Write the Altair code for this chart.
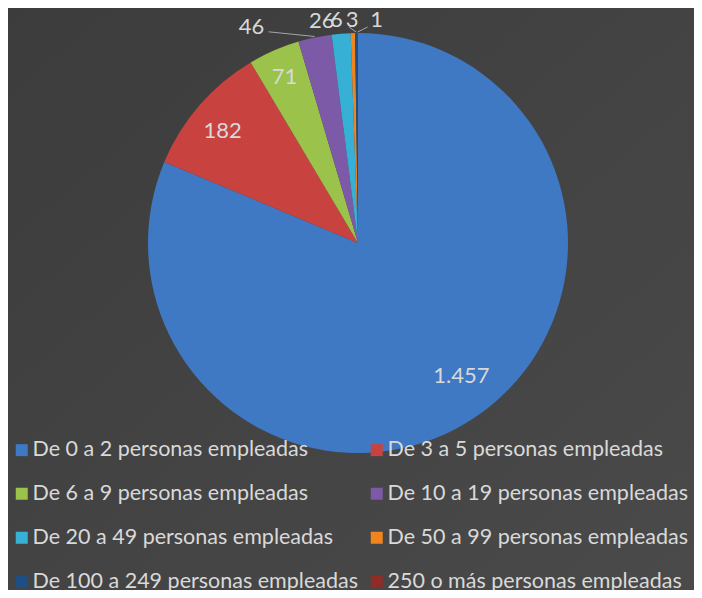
import altair as alt
import pandas as pd

categories = [
    "De 0 a 2 personas empleadas",
    "De 3 a 5 personas empleadas",
    "De 6 a 9 personas empleadas",
    "De 10 a 19 personas empleadas",
    "De 20 a 49 personas empleadas",
    "De 50 a 99 personas empleadas",
    "De 100 a 249 personas empleadas",
    "250 o más personas empleadas",
]
values = [1457, 182, 71, 46, 26, 6, 3, 1]
labels = ["1.457", "182", "71", "46", "26", "6", "3", "1"]
colors = ["#3F78C3", "#C8433F", "#9BC24A", "#7D5AA8", "#36B0D4", "#F0841F", "#1F4E85", "#8E2C28"]

df = pd.DataFrame({"cat": categories, "val": values, "lab": labels, "order": list(range(len(values)))})

W, H = 686, 582
CX, CY, R = 350, 235, 210
FONT = "Lato"
TXT = "#D9D9D9"

bg = alt.Chart(pd.DataFrame({"a": [0]})).mark_rect(
    color=alt.LinearGradient(
        gradient="linear", x1=0, y1=0, x2=1, y2=1,
        stops=[alt.GradientStop(color="#3C3C3C", offset=0),
               alt.GradientStop(color="#4A4A4A", offset=1)],
    )
).encode(x=alt.value(0), x2=alt.value(W), y=alt.value(0), y2=alt.value(H))

pie = alt.Chart(df).mark_arc(radius=R, x=CX, y=CY, stroke=None).encode(
    theta=alt.Theta("val:Q", stack=True),
    order=alt.Order("order:Q"),
    color=alt.Color(
        "cat:N",
        sort=categories,
        scale=alt.Scale(domain=categories, range=colors),
        legend=alt.Legend(
            title=None, orient="none", legendX=3, legendY=431, columns=2,
            direction="horizontal", padding=0,
            symbolType="square", symbolSize=144, symbolStrokeWidth=0,
            labelFont=FONT, labelFontSize=21.5, labelColor=TXT,
            rowPadding=21, columnPadding=8, labelOffset=0, labelLimit=400,
        ),
    ),
)

geo = alt.Chart(df).transform_joinaggregate(
    total="sum(val)"
).transform_window(
    cum="sum(val)", sort=[alt.SortField("order")], frame=[None, 0]
).transform_calculate(
    mid="2*PI*(datum.cum - datum.val/2)/datum.total"
).transform_calculate(
    ex=f"{CX} + {R + 1}*sin(datum.mid)",
    ey=f"{CY} - {R + 1}*cos(datum.mid)",
)

def label(cat, r, dx=0, dy=0):
    return geo.transform_filter(alt.datum.cat == cat).transform_calculate(
        lx=f"{CX} + {r}*sin(datum.mid)",
        ly=f"{CY} - {r}*cos(datum.mid)",
    ).mark_text(
        dx=dx, dy=dy, font=FONT, fontSize=22, color=TXT
    ).encode(
        x=alt.X("lx:Q", scale=None), y=alt.Y("ly:Q", scale=None), text="lab:N"
    )

def leader(cat, r, sx, sy):
    return geo.transform_filter(alt.datum.cat == cat).transform_calculate(
        sx=f"{CX} + {r}*sin(datum.mid) + ({sx})",
        sy=f"{CY} - {r}*cos(datum.mid) + ({sy})",
    ).mark_rule(color="#A6A6A6", strokeWidth=1).encode(
        x=alt.X("sx:Q", scale=None), y=alt.Y("sy:Q", scale=None),
        x2="ex:Q", y2="ey:Q",
    )

RO = 226
chart = alt.layer(
    bg, pie,
    label(categories[0], 172, 8, -10),
    label(categories[1], 174, -4, 2),
    label(categories[2], 176, -3, -5),
    leader(categories[3], RO, -43, 10),
    leader(categories[6], RO, -7, 10),
    leader(categories[7], RO, 10, 10),
    label(categories[3], RO, -60, 5),
    label(categories[4], RO, -18, 3),
    label(categories[5], RO, -16, 3),
    label(categories[6], RO, -4, 3),
    label(categories[7], RO, 19, 3),
).properties(
    width=W, height=H, autosize=alt.AutoSizeParams(type="none")
).configure(
    padding=0, background="#444444"
).configure_view(stroke=None)

chart.save("out.html", embed_options={"renderer": "svg", "actions": False})
